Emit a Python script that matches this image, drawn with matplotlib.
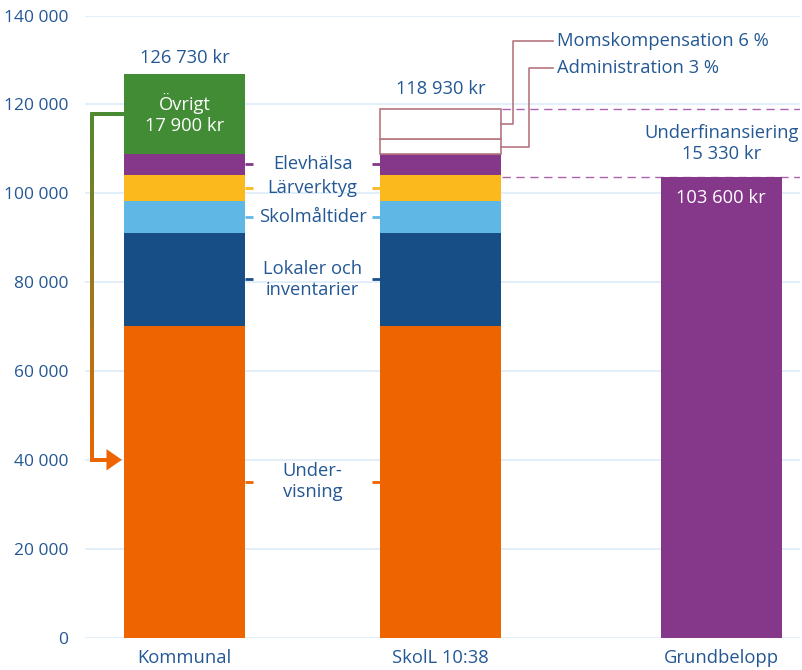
import matplotlib
matplotlib.use("Agg")
import matplotlib.pyplot as plt
import numpy as np
from matplotlib.collections import LineCollection
from matplotlib.patches import Polygon

plt.rcParams['font.family'] = ['Open Sans', 'DejaVu Sans']

# ---- data ----
categories = ["Kommunal", "SkolL 10:38", "Grundbelopp"]
segment_names = ["Under-\nvisning", "Lokaler och\ninventarier", "Skolmåltider", "Lärverktyg", "Elevhälsa"]
segment_values = [70100, 21000, 7200, 5900, 4630]
ovrigt_value = 17900
admin_value = 3270
moms_value = 6830
grundbelopp = 103600
kommunal_total = 126730
skoll_total = 118930
underfin = 15330
arrow_target = 40000
yticks = [0, 20000, 40000, 60000, 80000, 100000, 120000, 140000]

seg_colors = ["#EE6400", "#174E86", "#5FB7E6", "#FBB91E", "#853789"]
green = "#418C35"
purple = "#853789"
txt = "#245894"
callout = "#B5767F"
grid_c = "#DDEBF7"
FS = 13.2

def fmt(v):
    return f"{v:,}".replace(",", " ")

xpos = [0.0, 1.0, 2.096]
w = 0.473

fig = plt.figure(figsize=(8.03, 6.70), dpi=100)
ax = fig.add_axes([85/803, (670-637.5)/670, (800-85)/803, 622/670])
ax.set_xlim(-0.389, 2.404)
ax.set_ylim(0, 140000)
for s in ax.spines.values():
    s.set_visible(False)
ax.set_yticks(yticks)
ax.set_yticklabels([fmt(v) for v in yticks])
ax.tick_params(axis='y', length=0, pad=12, labelsize=12.5, labelcolor=txt)
ax.set_xticks(xpos)
ax.set_xticklabels(categories)
ax.tick_params(axis='x', length=0, pad=8, labelsize=FS, labelcolor=txt)
for v in yticks:
    ax.axhline(v, color=grid_c, lw=1.2, zorder=0)

# stacked bars for Kommunal and SkolL
cum = np.concatenate([[0], np.cumsum(segment_values)])
for xi in xpos[:2]:
    for i, v in enumerate(segment_values):
        ax.bar(xi, v, bottom=cum[i], width=w, color=seg_colors[i], zorder=2, linewidth=0)
base = cum[-1]
ax.bar(xpos[0], ovrigt_value, bottom=base, width=w, color=green, zorder=2, linewidth=0)
ax.bar(xpos[1], admin_value, bottom=base, width=w, color="white", edgecolor=callout, linewidth=1.2, zorder=2)
ax.bar(xpos[1], moms_value, bottom=base+admin_value, width=w, color="white", edgecolor=callout, linewidth=1.2, zorder=2)
ax.bar(xpos[2], grundbelopp, width=w, color=purple, zorder=2, linewidth=0)

# segment labels between bars with tick marks
mid_x = (xpos[0] + xpos[1]) / 2
tick_len = 0.03
for i, name in enumerate(segment_names):
    ym = cum[i] + segment_values[i] / 2
    ax.plot([xpos[0]+w/2, xpos[0]+w/2+tick_len], [ym, ym], color=seg_colors[i], lw=2, zorder=3, solid_capstyle='butt')
    ax.plot([xpos[1]-w/2-tick_len, xpos[1]-w/2], [ym, ym], color=seg_colors[i], lw=2, zorder=3, solid_capstyle='butt')
    ax.text(mid_x, ym, name, ha='center', va='center', color=txt, fontsize=FS, linespacing=1.2, zorder=4)

# totals
ax.annotate(fmt(kommunal_total) + " kr", (xpos[0], kommunal_total), xytext=(0, 16), textcoords='offset pixels',
            ha='center', va='center', color=txt, fontsize=FS)
ax.annotate(fmt(skoll_total) + " kr", (xpos[1], skoll_total), xytext=(0, 20), textcoords='offset pixels',
            ha='center', va='center', color=txt, fontsize=FS)
ax.text(xpos[0], base + ovrigt_value/2, "Övrigt\n" + fmt(ovrigt_value) + " kr", ha='center', va='center',
        color='white', fontsize=FS, linespacing=1.2, zorder=4)
ax.annotate(fmt(grundbelopp) + " kr", (xpos[2], grundbelopp), xytext=(0, -21), textcoords='offset pixels',
            ha='center', va='center', color='white', fontsize=FS, zorder=4)
ax.text(xpos[2], (grundbelopp + skoll_total)/2, "Underfinansiering\n" + fmt(underfin) + " kr",
        ha='center', va='center', color=txt, fontsize=FS, linespacing=1.2)

# dashed lines
xr = xpos[1] + w/2 + 0.005
for yv in [skoll_total, grundbelopp]:
    ax.plot([xr, 2.404], [yv, yv], color="#AD62AF", lw=1, dashes=(6, 4), zorder=1)

# callouts
redge = xpos[1] + w/2
y_moms = base + admin_value + moms_value/2
y_admin = base + admin_value/2
y_moms_txt = 134300
y_admin_txt = 128200
ax.plot([redge, redge+0.047, redge+0.047, redge+0.203], [y_moms, y_moms, y_moms_txt, y_moms_txt],
        color=callout, lw=1.2, zorder=3)
ax.plot([redge, redge+0.109, redge+0.109, redge+0.203], [y_admin, y_admin, y_admin_txt, y_admin_txt],
        color=callout, lw=1.2, zorder=3)
ax.text(redge+0.219, y_moms_txt, "Momskompensation 6 %", ha='left', va='center', color=txt, fontsize=FS)
ax.text(redge+0.219, y_admin_txt, "Administration 3 %", ha='left', va='center', color=txt, fontsize=FS)

# gradient arrow from Övrigt down to Undervisning
y_start = base + ovrigt_value/2
x_left = -0.361
x_tipbase = -0.3
x_tip = -0.245
px = [xpos[0] - w/2 + 0.01, x_left, x_left, x_tipbase]
py = [y_start, y_start, arrow_target, arrow_target]
pts = []
for i in range(3):
    n = 200
    for t in np.linspace(0, 1, n, endpoint=False):
        pts.append((px[i] + (px[i+1]-px[i])*t, py[i] + (py[i+1]-py[i])*t))
pts.append((px[-1], py[-1]))
pts = np.array(pts)
disp = ax.transData.transform(pts)
d = np.r_[0, np.cumsum(np.hypot(*np.diff(disp, axis=0).T))]
f = d / d[-1]
c0 = np.array(matplotlib.colors.to_rgb(green))
c1 = np.array(matplotlib.colors.to_rgb("#EE6400"))
cols = [c0 + (c1 - c0) * fi for fi in f[:-1]]
segs = np.stack([pts[:-1], pts[1:]], axis=1)
lc = LineCollection(segs, colors=cols, linewidths=2.6, capstyle='projecting', zorder=3)
ax.add_collection(lc)
dy = 2400
tri = Polygon([[x_tipbase-0.005, arrow_target+dy], [x_tip, arrow_target], [x_tipbase-0.005, arrow_target-dy]],
              closed=True, color="#EE6400", zorder=3, linewidth=0)
ax.add_patch(tri)

fig.savefig("out.png", dpi=100)
